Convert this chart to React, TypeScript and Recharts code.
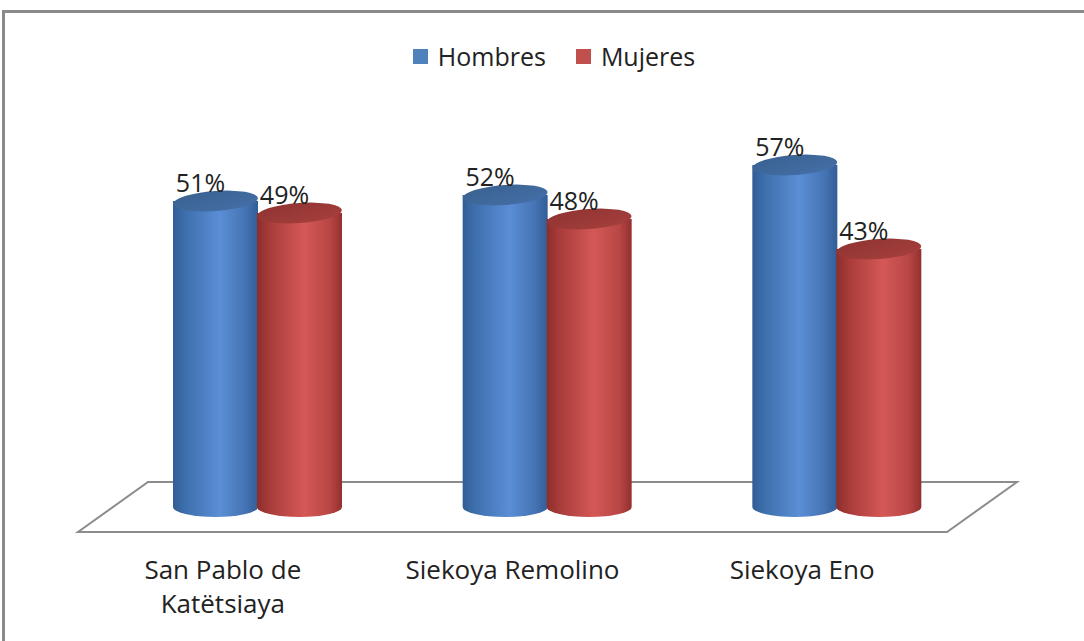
import React from 'react';
import * as R from 'recharts';

const { BarChart, Bar, XAxis, YAxis, Legend, LabelList } = R as any;

// data
const communities = ['San Pablo de Katëtsiaya', 'Siekoya Remolino', 'Siekoya Eno'];
const tickLines = [['San Pablo de', 'Katëtsiaya'], ['Siekoya Remolino'], ['Siekoya Eno']];
const hombres = [51, 52, 57];
const mujeres = [49, 48, 43];

const data = communities.map((name, i) => ({
  name,
  hombres: hombres[i],
  mujeres: mujeres[i],
}));

const FONT = '"Open Sans", sans-serif';
const TEXT = '#222222';

const palettes = {
  hombres: {
    legend: '#4f81bd',
    side: ['#325d93', '#3e70ae', '#5a8ed5', '#4574b4', '#325e97'],
    top: ['#39608f', '#4570a8'],
  },
  mujeres: {
    legend: '#c0504d',
    side: ['#8c2d2b', '#a83c3a', '#d45856', '#b94745', '#93302e'],
    top: ['#8f3331', '#a6403e'],
  },
};

const RY = 10;

const makeCylinder = (key: 'hombres' | 'mujeres') => (props: any) => {
  const { x, y, width, height } = props;
  if (width == null || height == null) return null;
  const p = palettes[key];
  const rx = width / 2;
  const cx = x + rx;
  const bottom = y + height;
  const sideId = `side-${key}`;
  const topId = `top-${key}`;
  return (
    <g>
      <defs>
        <linearGradient id={sideId} x1="0" y1="0" x2="1" y2="0">
          <stop offset="0" stopColor={p.side[0]} />
          <stop offset="0.15" stopColor={p.side[1]} />
          <stop offset="0.55" stopColor={p.side[2]} />
          <stop offset="0.85" stopColor={p.side[3]} />
          <stop offset="1" stopColor={p.side[4]} />
        </linearGradient>
        <linearGradient id={topId} x1="0" y1="0" x2="1" y2="1">
          <stop offset="0" stopColor={p.top[0]} />
          <stop offset="1" stopColor={p.top[1]} />
        </linearGradient>
      </defs>
      <path
        d={`M${x},${y} V${bottom} A${rx},${RY} 0 0 0 ${x + width},${bottom} V${y} Z`}
        fill={`url(#${sideId})`}
      />
      <ellipse
        cx={cx}
        cy={y}
        rx={rx}
        ry={RY}
        fill={`url(#${topId})`}
        transform={`rotate(-4 ${cx} ${y})`}
      />
    </g>
  );
};

const Floor = () => {
  const usePlot = (R as any).usePlotArea;
  const area = usePlot ? usePlot() : null;
  const a = area || { x: 113, y: 147, width: 869, height: 360 };
  const yb = a.y + a.height;
  const l = a.x;
  const r = a.x + a.width;
  const pts = [
    [l + 35, yb - 25],
    [r + 35, yb - 25],
    [r - 35, yb + 25],
    [l - 35, yb + 25],
  ]
    .map((q) => q.join(','))
    .join(' ');
  return <polygon points={pts} fill="#ffffff" stroke="#8c8c8c" strokeWidth={2} />;
};

const CategoryTick = (props: any) => {
  const { x, y, index } = props;
  const lines = tickLines[index] || [props.payload.value];
  return (
    <g>
      {lines.map((line, i) => (
        <text
          key={i}
          x={x - 35}
          y={y + 64 + i * 34}
          textAnchor="middle"
          fontFamily={FONT}
          fontSize={26}
          fill={TEXT}
        >
          {line}
        </text>
      ))}
    </g>
  );
};

const PercentLabel = (props: any) => {
  const { x, y, width, value } = props;
  return (
    <text
      x={x + width / 2 - 15}
      y={y - 9}
      textAnchor="middle"
      fontFamily={FONT}
      fontSize={25}
      fill={TEXT}
    >
      {`${value}%`}
    </text>
  );
};

const LegendContent = () => (
  <div
    style={{
      display: 'flex',
      justifyContent: 'center',
      alignItems: 'center',
      height: 30,
      fontFamily: FONT,
      fontSize: 25,
      color: TEXT,
    }}
  >
    {(['hombres', 'mujeres'] as const).map((k, i) => (
      <div key={k} style={{ display: 'flex', alignItems: 'center', marginLeft: i ? 30 : 0 }}>
        <span
          style={{
            display: 'inline-block',
            width: 15,
            height: 15,
            background: palettes[k].legend,
            marginRight: 10,
          }}
        />
        <span>{k === 'hombres' ? 'Hombres' : 'Mujeres'}</span>
      </div>
    ))}
  </div>
);

export default function App() {
  return (
    <div
      style={{
        position: 'fixed',
        left: 0,
        top: 0,
        width: 1084,
        height: 641,
        overflow: 'hidden',
        background: '#ffffff',
      }}
    >
      <div
        style={{
          position: 'absolute',
          left: 2,
          top: 10,
          width: 1200,
          height: 800,
          border: '3px solid #8a8a8a',
        }}
      />
      <div style={{ position: 'absolute', left: 0, top: 0 }}>
        <BarChart
          width={1084}
          height={641}
          data={data}
          margin={{ top: 117, right: 102, bottom: 34, left: 113 }}
          barSize={85}
          barGap={-1}
        >
          <Floor />
          <XAxis
            dataKey="name"
            axisLine={false}
            tickLine={false}
            height={100}
            interval={0}
            tick={<CategoryTick />}
          />
          <YAxis hide domain={[0, 60]} />
          <Legend
            verticalAlign="top"
            align="center"
            content={<LegendContent />}
            wrapperStyle={{ top: 41, left: 0, width: 1108 }}
          />
          <Bar dataKey="hombres" name="Hombres" fill={palettes.hombres.legend} shape={makeCylinder('hombres')} isAnimationActive={false}>
            <LabelList dataKey="hombres" content={<PercentLabel />} />
          </Bar>
          <Bar dataKey="mujeres" name="Mujeres" fill={palettes.mujeres.legend} shape={makeCylinder('mujeres')} isAnimationActive={false}>
            <LabelList dataKey="mujeres" content={<PercentLabel />} />
          </Bar>
        </BarChart>
      </div>
    </div>
  );
}
